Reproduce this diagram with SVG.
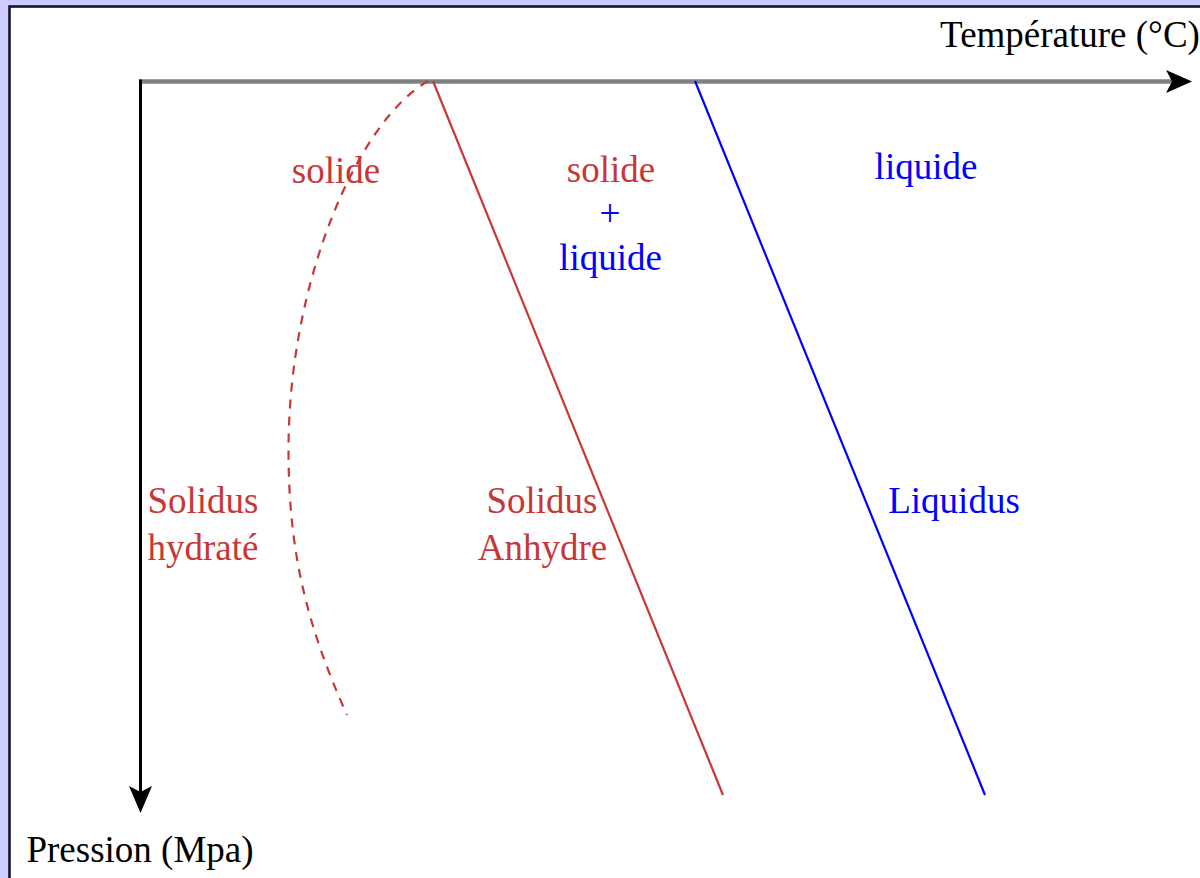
<svg xmlns="http://www.w3.org/2000/svg" width="1200" height="878" viewBox="0 0 1200 878">
<style>
text{font-family:"Liberation Serif","Times New Roman",serif;font-size:37px;text-anchor:middle}
.k{fill:#000}
.r{fill:#c83737}
.b{fill:#0000ff}
.red{stroke:#c83737;stroke-width:2.2;fill:none}
.blue{stroke:#0000ff;stroke-width:2.2;fill:none}
</style>
<rect x="0" y="0" width="1200" height="878" fill="#ccccff"/>
<rect x="9.5" y="6.5" width="1300" height="1000" fill="#ffffff" stroke="#15152a" stroke-width="2.6"/>
<g id="connectors">
<line x1="139" y1="81.5" x2="1172" y2="81.5" stroke="#808080" stroke-width="4.5"/>
<polygon points="1192,81.5 1166,70 1172,81.5 1166,93" fill="#000"/>
<line x1="140.5" y1="79.5" x2="140.5" y2="795" stroke="#000" stroke-width="3"/>
<polygon points="140.5,813 129,786 140.5,792 152,786" fill="#000"/>
<path class="red" stroke-width="2.5" stroke-dasharray="9,8" d="M428,81 C358.4,121 288.5,280 288.5,450 C288.5,550 306,624 347,715"/>
<line class="red" x1="433" y1="81" x2="723" y2="795"/>
<line class="blue" x1="695" y1="81" x2="985" y2="795"/>
</g>
<g id="axis-temperature"><text class="k" x="1070" y="47">Température (°C)</text></g>
<g id="axis-pression"><text class="k" x="140" y="862">Pression (Mpa)</text></g>
<g id="label-solide"><text class="r" x="336" y="183">solide</text></g>
<g id="label-solide-liquide">
<text class="r" x="611" y="182">solide</text>
<text class="b" x="610" y="226">+</text>
<text class="b" x="610.5" y="270">liquide</text>
</g>
<g id="label-liquide"><text class="b" x="926" y="179">liquide</text></g>
<g id="label-solidus-hydrate">
<text class="r" x="203" y="513">Solidus</text>
<text class="r" x="203" y="560">hydraté</text>
</g>
<g id="label-solidus-anhydre">
<text class="r" x="542" y="513">Solidus</text>
<text class="r" x="542.5" y="560">Anhydre</text>
</g>
<g id="label-liquidus"><text class="b" x="954" y="513">Liquidus</text></g>
</svg>
